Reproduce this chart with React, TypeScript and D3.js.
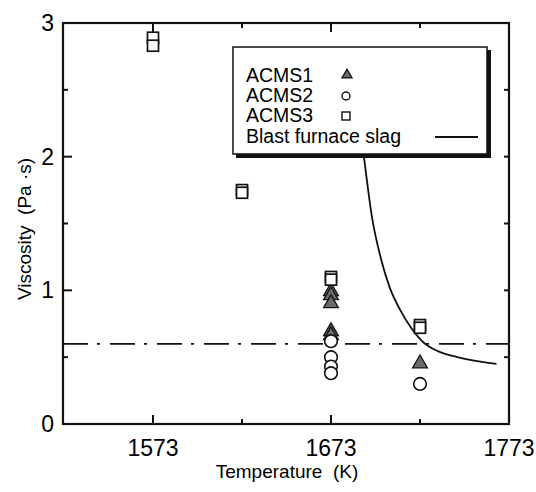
import React, { useEffect, useRef } from 'react';
import * as d3 from 'd3';

// viscosity vs temperature, three slags + blast furnace slag curve

const acms1Temp = [1673, 1673, 1673, 1673, 1673, 1723];
const acms1Visc = [1.0, 0.97, 0.91, 0.7, 0.67, 0.46];

const acms2Temp = [1673, 1673, 1673, 1673, 1723];
const acms2Visc = [0.62, 0.5, 0.43, 0.38, 0.3];

const acms3Temp = [1573, 1573, 1623, 1623, 1673, 1673, 1723, 1723];
const acms3Visc = [2.89, 2.83, 1.75, 1.73, 1.1, 1.08, 0.74, 0.72];

const slagTemp = [1691.5, 1696, 1701, 1706, 1712, 1718, 1725, 1733, 1744, 1755, 1766];
const slagVisc = [2.0, 1.55, 1.24, 1.02, 0.85, 0.72, 0.61, 0.545, 0.5, 0.47, 0.45];

const refVisc = 0.6;

const xMajor = [1573, 1673, 1773];
const xMinor = [1623, 1723];
const yMajor = [0, 1, 2, 3];
const yMinor = [0.5, 1.5, 2.5];

const legendLabels = ['ACMS1', 'ACMS2', 'ACMS3', 'Blast furnace slag'];

const FONT = '"Liberation Sans", Arial, sans-serif';

const App = () => {
    const svgRef = useRef<SVGSVGElement>(null);

    useEffect(() => {
        if (!svgRef.current) return;
        const svg = d3.select(svgRef.current);
        svg.selectAll('*').remove();

        const left = 63, right = 509, top = 23, bottom = 424;

        const x = d3.scaleLinear().domain([1523, 1773]).range([left + 1, right]);
        const y = d3.scaleLinear().domain([0, 3]).range([bottom, top]);

        svg.append('rect').attr('width', 536).attr('height', 492).attr('fill', '#fff');

        // dash-dot reference line
        svg.append('line')
            .attr('x1', left).attr('x2', right)
            .attr('y1', y(refVisc)).attr('y2', y(refVisc))
            .attr('stroke', '#111').attr('stroke-width', 1.8)
            .attr('stroke-dasharray', '25,9,3,10');

        // blast furnace slag curve
        const slag = slagTemp.map((t, i) => [t, slagVisc[i]] as [number, number]);
        const line = d3.line<[number, number]>()
            .x(d => x(d[0])).y(d => y(d[1]))
            .curve(d3.curveMonotoneX);
        svg.append('path')
            .attr('d', line(slag))
            .attr('fill', 'none')
            .attr('stroke', '#111')
            .attr('stroke-width', 1.8);

        // markers
        const tri = d3.symbol().type(d3.symbolTriangle).size(95);
        svg.append('g').selectAll('path')
            .data(acms1Temp.map((t, i) => [t, acms1Visc[i]]))
            .join('path')
            .attr('d', tri)
            .attr('transform', d => `translate(${x(d[0])},${y(d[1]) + 1})`)
            .attr('fill', '#6a6a6a')
            .attr('stroke', '#111')
            .attr('stroke-width', 1.3);

        svg.append('g').selectAll('circle')
            .data(acms2Temp.map((t, i) => [t, acms2Visc[i]]))
            .join('circle')
            .attr('cx', d => x(d[0]))
            .attr('cy', d => y(d[1]))
            .attr('r', 6.3)
            .attr('fill', '#fff')
            .attr('stroke', '#111')
            .attr('stroke-width', 1.6);

        svg.append('g').selectAll('rect')
            .data(acms3Temp.map((t, i) => [t, acms3Visc[i]]))
            .join('rect')
            .attr('x', d => x(d[0]) - 5.5)
            .attr('y', d => y(d[1]) - 5.5)
            .attr('width', 11)
            .attr('height', 11)
            .attr('fill', '#fff')
            .attr('stroke', '#111')
            .attr('stroke-width', 1.7);

        // frame
        svg.append('rect')
            .attr('x', left).attr('y', top)
            .attr('width', right - left).attr('height', bottom - top)
            .attr('fill', 'none')
            .attr('stroke', '#111')
            .attr('stroke-width', 2.2);

        // ticks on all four sides, pointing inward
        const ticks = svg.append('g').attr('stroke', '#111').attr('stroke-width', 2);
        xMajor.concat(xMinor).forEach(t => {
            const len = xMajor.includes(t) ? 9 : 5;
            ticks.append('line').attr('x1', x(t)).attr('x2', x(t)).attr('y1', bottom).attr('y2', bottom - len);
            ticks.append('line').attr('x1', x(t)).attr('x2', x(t)).attr('y1', top).attr('y2', top + len);
        });
        yMajor.concat(yMinor).forEach(v => {
            const len = yMajor.includes(v) ? 9 : 5;
            ticks.append('line').attr('x1', left).attr('x2', left + len).attr('y1', y(v)).attr('y2', y(v));
            ticks.append('line').attr('x1', right).attr('x2', right - 5).attr('y1', y(v)).attr('y2', y(v));
        });

        // tick labels
        svg.append('g').selectAll('text')
            .data(xMajor)
            .join('text')
            .attr('x', d => x(d))
            .attr('y', 456)
            .attr('text-anchor', 'middle')
            .style('font-family', FONT)
            .style('font-size', '23px')
            .text(d => d);

        svg.append('g').selectAll('text')
            .data(yMajor)
            .join('text')
            .attr('x', 54)
            .attr('y', d => y(d) + 8)
            .attr('text-anchor', 'end')
            .style('font-family', FONT)
            .style('font-size', '23px')
            .text(d => d);

        // axis titles
        svg.append('text')
            .attr('x', 287).attr('y', 478)
            .attr('text-anchor', 'middle')
            .style('font-family', FONT)
            .style('font-size', '19px')
            .attr('xml:space', 'preserve')
            .text('Temperature  (K)');

        svg.append('text')
            .attr('transform', 'translate(31,229) rotate(-90)')
            .attr('text-anchor', 'middle')
            .style('font-family', FONT)
            .style('font-size', '19px')
            .attr('xml:space', 'preserve')
            .text('Viscosity  (Pa \u00b7s)');

        // legend box with shadow
        const lg = svg.append('g');
        lg.append('rect')
            .attr('x', 236).attr('y', 50).attr('width', 255).attr('height', 108)
            .attr('fill', '#111');
        lg.append('rect')
            .attr('x', 233).attr('y', 47).attr('width', 254).attr('height', 107)
            .attr('fill', '#fff')
            .attr('stroke', '#111')
            .attr('stroke-width', 1.5);

        const rowY = [82, 102, 122, 143];
        legendLabels.forEach((lab, i) => {
            lg.append('text')
                .attr('x', 246).attr('y', rowY[i])
                .style('font-family', FONT)
                .style('font-size', '19.5px')
                .text(lab);
        });
        lg.append('path')
            .attr('d', d3.symbol().type(d3.symbolTriangle).size(45)())
            .attr('transform', `translate(347,${rowY[0] - 7})`)
            .attr('fill', '#6a6a6a').attr('stroke', '#111').attr('stroke-width', 1.2);
        lg.append('circle')
            .attr('cx', 346).attr('cy', rowY[1] - 6).attr('r', 4)
            .attr('fill', '#fff').attr('stroke', '#111').attr('stroke-width', 1.4);
        lg.append('rect')
            .attr('x', 342).attr('y', rowY[2] - 10).attr('width', 8).attr('height', 8)
            .attr('fill', '#fff').attr('stroke', '#111').attr('stroke-width', 1.4);
        lg.append('line')
            .attr('x1', 435).attr('x2', 478).attr('y1', rowY[3] - 6).attr('y2', rowY[3] - 6)
            .attr('stroke', '#111').attr('stroke-width', 1.8);
    }, []);

    return (
        <svg ref={svgRef} width={536} height={492}
            style={{ position: 'absolute', left: 0, top: 0, display: 'block' }} />
    );
};

export default App;
